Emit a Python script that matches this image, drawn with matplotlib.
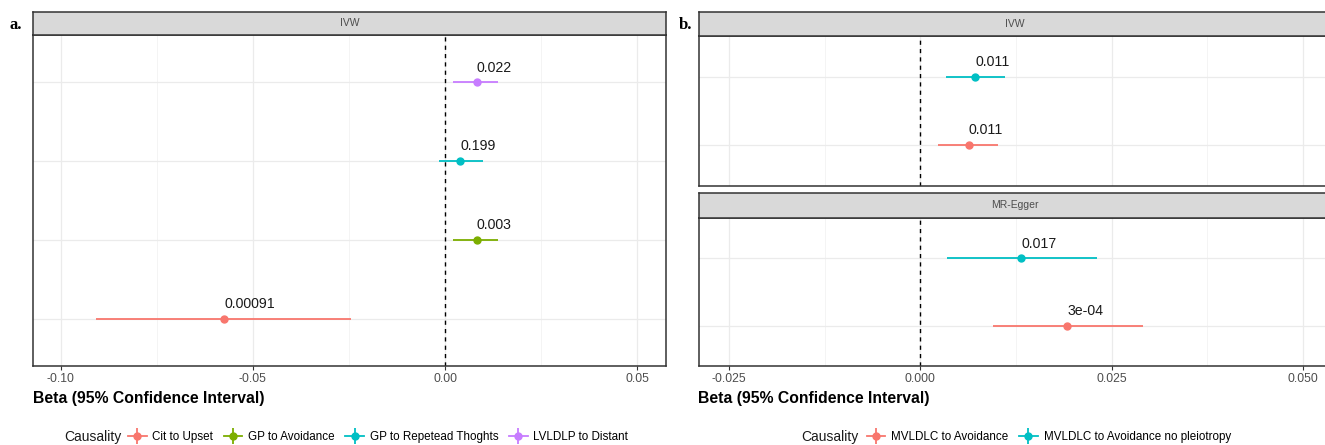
import matplotlib
matplotlib.use("Agg")
import matplotlib.pyplot as plt
from matplotlib import font_manager
from matplotlib.lines import Line2D
from matplotlib.ticker import FixedLocator

names = {f.name for f in font_manager.fontManager.ttflist}
FONT = "Liberation Sans Narrow" if "Liberation Sans Narrow" in names else "Liberation Sans"
plt.rcParams["font.family"] = [FONT, "DejaVu Sans"]

# ---------------- data ----------------
# Panel a (IVW)
a_labels = ["Cit to Upset", "GP to Avoidance", "GP to Repetead Thoghts", "LVLDLP to Distant"]
a_beta = [-0.0575, 0.0083, 0.0039, 0.0083]
a_lo = [-0.0907, 0.0021, -0.0016, 0.0021]
a_hi = [-0.0246, 0.0137, 0.0098, 0.0137]
a_p = ["0.00091", "0.003", "0.199", "0.022"]
a_colors = ["#F8766D", "#7CAE00", "#00BFC4", "#C77CFF"]

# Panel b
b_labels = ["MVLDLC to Avoidance", "MVLDLC to Avoidance no pleiotropy"]
b_colors = ["#F8766D", "#00BFC4"]
b_ivw_beta = [0.0063, 0.0072]
b_ivw_lo = [0.0023, 0.0034]
b_ivw_hi = [0.0101, 0.0111]
b_ivw_p = ["0.011", "0.011"]
b_egg_beta = [0.0192, 0.0132]
b_egg_lo = [0.0095, 0.0035]
b_egg_hi = [0.0291, 0.0231]
b_egg_p = ["3e-04", "0.017"]

a_xticks = [-0.10, -0.05, 0.00, 0.05]
a_xticklabels = ["-0.10", "-0.05", "0.00", "0.05"]
b_xticks = [-0.025, 0.000, 0.025, 0.050]
b_xticklabels = ["-0.025", "0.000", "0.025", "0.050"]

# ---------------- layout ----------------
W, H = 1325, 445
fig = plt.figure(figsize=(W / 100, H / 100), dpi=100)

def fx(px):
    return px / W

def fy(py):
    return 1 - py / H

BORDER = "#333333"
GRID = "#EBEBEB"
GRID_MINOR = "#F4F4F4"

def make_panel(x0, x1, y_top, y_bot, strip_top, strip_title):
    ax = fig.add_axes([fx(x0), fy(y_bot), fx(x1 - x0), (y_bot - y_top) / H])
    sax = fig.add_axes([fx(x0), fy(y_top), fx(x1 - x0), (y_top - strip_top) / H])
    sax.set_facecolor("#D9D9D9")
    sax.set_xticks([]); sax.set_yticks([])
    for s in sax.spines.values():
        s.set_color(BORDER); s.set_linewidth(1.1)
    sax.text(0.5, 0.5, strip_title, ha="center", va="center", fontsize=7.5,
             color="#4D4D4D", transform=sax.transAxes)
    for s in ax.spines.values():
        s.set_color(BORDER); s.set_linewidth(1.1)
    ax.set_facecolor("white")
    ax.tick_params(axis="y", left=False, labelleft=False)
    ax.tick_params(axis="x", colors=BORDER, length=3, width=0.8, labelsize=8.8,
                   labelcolor="#4D4D4D", pad=2)
    ax.set_axisbelow(True)
    return ax

def draw_points(ax, betas, los, his, pvals, colors, ypos):
    for b, lo, hi, p, c, y in zip(betas, los, his, pvals, colors, ypos):
        ax.errorbar([b], [y], xerr=[[b - lo], [hi - b]], fmt="o", color=c,
                    ecolor=c, elinewidth=1.3, markersize=5, capsize=0, zorder=3)
        ax.annotate(p, (b, y), xytext=(0, 5.5), textcoords="offset points",
                    ha="left", va="bottom", fontsize=10.2, color="#1A1A1A", zorder=4)

def finish_x(ax, ticks, labels, xlim, minor, show_labels=True):
    ax.set_xlim(*xlim)
    ax.set_xticks(ticks)
    ax.set_xticklabels(labels if show_labels else [])
    ax.xaxis.set_minor_locator(FixedLocator(minor))
    ax.tick_params(axis="x", which="minor", length=0)
    ax.grid(True, which="major", axis="both", color=GRID, linewidth=0.9)
    ax.grid(True, which="minor", axis="x", color=GRID_MINOR, linewidth=0.7)
    ax.axvline(0, color="black", linestyle=(0, (3, 3)), linewidth=1.0, zorder=2)

# Panel a
axa = make_panel(32.7, 666, 35, 366, 12, "IVW")
ya = list(range(1, len(a_labels) + 1))
draw_points(axa, a_beta, a_lo, a_hi, a_p, a_colors, ya)
axa.set_ylim(0.4, len(a_labels) + 0.6)
axa.set_yticks(ya)
finish_x(axa, a_xticks, a_xticklabels, (-0.1073, 0.0575), [-0.075, -0.025, 0.025])

# Panel b IVW
axb1 = make_panel(698.5, 1332, 36, 186, 12, "IVW")
yb = list(range(1, len(b_labels) + 1))
draw_points(axb1, b_ivw_beta, b_ivw_lo, b_ivw_hi, b_ivw_p, b_colors, yb)
axb1.set_ylim(0.4, len(b_labels) + 0.6)
axb1.set_yticks(yb)
finish_x(axb1, b_xticks, b_xticklabels, (-0.0290, 0.0538), [-0.0125, 0.0125, 0.0375],
         show_labels=False)
axb1.tick_params(axis="x", bottom=False)

# Panel b MR-Egger
axb2 = make_panel(698.5, 1332, 218, 366, 193, "MR-Egger")
draw_points(axb2, b_egg_beta, b_egg_lo, b_egg_hi, b_egg_p, b_colors, yb)
axb2.set_ylim(0.4, len(b_labels) + 0.6)
axb2.set_yticks(yb)
finish_x(axb2, b_xticks, b_xticklabels, (-0.0290, 0.0538), [-0.0125, 0.0125, 0.0375])

# axis titles
for x0 in (32.7, 698.5):
    fig.text(fx(x0), fy(398), "Beta (95% Confidence Interval)", ha="left", va="center",
             fontsize=11.3, fontweight="bold", color="black")

# panel letters
fig.text(fx(10), fy(25), "a.", ha="left", va="center", fontsize=12, fontweight="bold",
         family=["Liberation Serif", "DejaVu Serif"])
fig.text(fx(679), fy(25), "b.", ha="left", va="center", fontsize=12, fontweight="bold",
         family=["Liberation Serif", "DejaVu Serif"])

# legends
def legend_handles(colors):
    hs = []
    for c in colors:
        h1 = Line2D([], [], color=c, marker="o", markersize=5, linewidth=1.3)
        h2 = Line2D([], [], color=c, marker="|", markersize=12, markeredgewidth=1.3,
                    linestyle="none")
        hs.append((h1, h2))
    return hs

fig.text(fx(64), fy(437), "Causality", ha="left", va="center", fontsize=10, color="#1A1A1A")
fig.legend(legend_handles(a_colors), a_labels, loc="center left",
           bbox_to_anchor=(fx(122), fy(437)), ncol=4, frameon=False, fontsize=8.4,
           handlelength=1.6, handletextpad=0.5, columnspacing=0.9, borderpad=0)

fig.text(fx(801), fy(437), "Causality", ha="left", va="center", fontsize=10, color="#1A1A1A")
fig.legend(legend_handles(b_colors), b_labels, loc="center left",
           bbox_to_anchor=(fx(861), fy(437)), ncol=2, frameon=False, fontsize=8.4,
           handlelength=1.6, handletextpad=0.5, columnspacing=0.9, borderpad=0)

fig.savefig("out.png", dpi=100)
